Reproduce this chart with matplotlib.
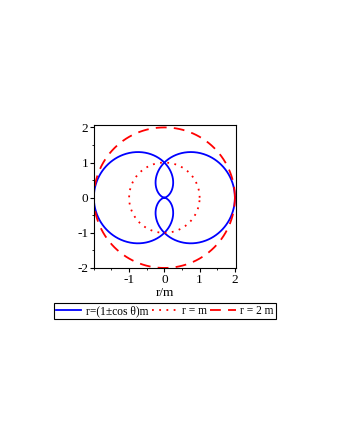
import numpy as np
import matplotlib
matplotlib.use("Agg")
import matplotlib.pyplot as plt
from matplotlib.ticker import MultipleLocator

# data
theta = np.linspace(0, 2 * np.pi, 721)
r_plus = 1 + np.cos(theta)     # r = (1 + cos θ) m
r_minus = 1 - np.cos(theta)    # r = (1 - cos θ) m
r_unit = np.ones_like(theta)   # r = m
r_two = 2 * np.ones_like(theta)  # r = 2 m
x_ticks = [-1, 0, 1, 2]
y_ticks = [-2, -1, 0, 1, 2]
labels = ["r=(1\u00b1cos \u03b8)m", "r = m", "r = 2 m"]

plt.rcParams["font.family"] = ["Liberation Serif", "DejaVu Serif"]
plt.rcParams["font.size"] = 9
plt.rcParams["axes.unicode_minus"] = False

fig = plt.figure(figsize=(3.4, 4.4), dpi=100)
ax = fig.add_axes([0.276, 0.391, 0.418, 0.325])

h1, = ax.plot(r_plus * np.cos(theta), r_plus * np.sin(theta), color="#0000ff", lw=1.3)
ax.plot(r_minus * np.cos(theta), r_minus * np.sin(theta), color="#0000ff", lw=1.3)
h2, = ax.plot(r_unit * np.cos(theta), r_unit * np.sin(theta), color="#ff0000", lw=1.3,
              linestyle=(0, (1, 3)))
h3, = ax.plot(r_two * np.cos(theta), r_two * np.sin(theta), color="#ff0000", lw=1.3,
              linestyle=(0, (6, 4)))

ax.set_xlim(-2, 2.03)
ax.set_ylim(-2, 2.07)
ax.set_xticks(x_ticks)
ax.set_yticks(y_ticks)
ax.xaxis.set_minor_locator(MultipleLocator(0.5))
ax.yaxis.set_minor_locator(MultipleLocator(0.5))
ax.tick_params(which="major", direction="out", length=3, width=0.8, pad=1, labelsize=9.5)
ax.tick_params(which="minor", direction="out", length=1.5, width=0.6)
for s in ax.spines.values():
    s.set_linewidth(0.8)
ax.set_xlabel("r/m", labelpad=1, fontsize=9.5)

leg = fig.legend([h1, h2, h3], labels, loc="center", bbox_to_anchor=(0.485, 0.293), ncol=3,
                 frameon=True, fancybox=False, edgecolor="black", framealpha=1,
                 handlelength=2.2, handletextpad=0.4, columnspacing=0.3, borderpad=0.2,
                 borderaxespad=0, fontsize=8.3)
leg.get_frame().set_linewidth(0.8)

fig.savefig("out.png", dpi=100)
